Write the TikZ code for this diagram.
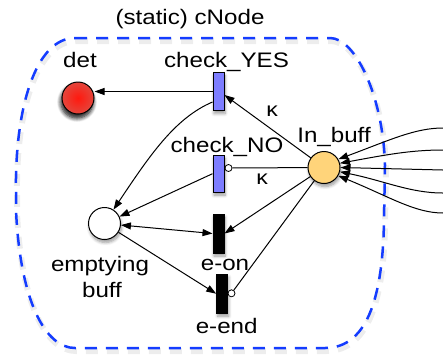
\documentclass[tikz,border=0pt]{standalone}
\usepackage{fontspec}
\setmainfont{Liberation Sans}[FakeStretch=1.15]
\usetikzlibrary{arrows.meta,shadows.blur}
\definecolor{boxblue}{RGB}{20,60,255}
\definecolor{transblue}{RGB}{125,125,255}
\definecolor{bufforange}{RGB}{255,212,122}
\definecolor{detin}{RGB}{255,25,15}
\definecolor{detout}{RGB}{228,70,60}
\begin{document}
\begin{tikzpicture}[x=1pt,y=-1pt,
  lbl/.style={font=\fontsize{21}{25}\selectfont,anchor=base,inner sep=0pt},
  kap/.style={font=\fontsize{20}{24}\selectfont,inner sep=0pt},
  shad/.style={blur shadow={shadow xshift=1pt,shadow yshift=-3pt,shadow opacity=40,shadow blur radius=3pt,shadow blur steps=6}},
  place/.style={circle,draw,line width=1pt,minimum size=32pt,inner sep=0pt,shad},
  transition/.style={rectangle,draw,line width=1pt,minimum width=11pt,minimum height=38pt,inner sep=0pt,shad},
  inh/.style={circle,draw,fill=white,line width=0.8pt,minimum size=7pt,inner sep=0pt},
  conn/.style={line width=1pt},
  arc/.style={conn,-{Triangle[length=10pt,width=7pt]}},
  darc/.style={conn,{Triangle[length=10pt,width=7pt]}-{Triangle[length=10pt,width=7pt]}},
  box/.style={line width=2.5pt,dash pattern=on 12pt off 9pt}
]
\useasboundingbox (0,0) rectangle (443,354);
% soft shadow of the dashed boundary
\begin{scope}[shift={(1,3)}]
\draw[box,black,opacity=0.07,line width=6pt] (75,38) -- (330,38) .. controls (355,38) and (383,95) .. (385,165) -- (384,220) .. controls (383,290) and (370,348) .. (325,348) -- (75,348) .. controls (45,348) and (20,300) .. (16,210) -- (16,190) .. controls (15,110) and (35,38) .. (75,38) -- cycle;
\end{scope}
\draw[box,boxblue] (75,38) -- (330,38) .. controls (355,38) and (383,95) .. (385,165) -- (384,220) .. controls (383,290) and (370,348) .. (325,348) -- (75,348) .. controls (45,348) and (20,300) .. (16,210) -- (16,190) .. controls (15,110) and (35,38) .. (75,38) -- cycle;

% nodes
\node[place,shading=radial,inner color=detin,outer color=detout,
  blur shadow={shadow xshift=-1pt,shadow yshift=-4pt,shadow opacity=60,shadow blur radius=4pt,shadow blur steps=6}] (det) at (78,98) {};
\node[transition,fill=transblue] (cy) at (218.5,91.5) {};
\node[transition,fill=transblue,minimum height=37pt] (cn) at (218.5,173.7) {};
\node[place,fill=bufforange] (ib) at (324,167.5) {};
\node[place,fill=white] (emp) at (104.5,223.5) {};
\node[transition,fill=black,minimum height=39pt] (eon) at (218.5,233.5) {};
\node[transition,fill=black,minimum height=39pt] (eend) at (222.2,293.7) {};
\node[inh] (inhN) at (228.5,168) {};
\node[inh] (inhE) at (231.5,293.3) {};

% labels
\node[lbl] (ttitle) at (190,24) {(static) cNode};
\node[lbl] (tdet) at (80,67) {det};
\node[lbl] (tcy) at (226.5,67) {check\_YES};
\node[lbl] (tcn) at (227,152) {check\_NO};
\node[lbl] (tib) at (334,142) {In\_buff};
\node[lbl] (temp1) at (100,271) {emptying};
\node[lbl] (temp2) at (102,297.5) {buff};
\node[lbl] (teon) at (225,270) {e-on};
\node[lbl] (teend) at (226.7,333) {e-end};
\node[kap] (k1) at (272,111.5) {κ};
\node[kap] (k2) at (262,179) {κ};

% connectors
\draw[arc] (cy.west) -- (cy.west -| det.east);
\draw[arc] (ib) -- ([yshift=-3.5pt]cy.east);
\draw[conn] (ib) -- (inhN);
\draw[arc] ([yshift=-10.5pt]cy.west) .. controls (175,118) and (150,155) .. (emp.57);
\draw[arc] (cn.west) -- (emp);
\draw[arc] (ib) -- (eon.east);
\draw[darc] (emp) -- (eon.west);
\draw[arc] (emp) -- (eend.west);
\draw[conn] (ib) -- (inhE);

% incoming arcs from the right
\coordinate (r1) at (443,128);
\coordinate (r2) at (443,150);
\coordinate (r3) at (443,170);
\coordinate (r4) at (443,193);
\coordinate (r5) at (443,213);
\draw[arc] (r1) .. controls (415,128) and (390,140) .. (ib.30);
\draw[arc] (r2) .. controls (410,150) and (385,155) .. (ib.15);
\draw[arc] (r3) -- (ib.0);
\draw[arc] (r4) .. controls (410,193) and (385,181) .. (ib.-15);
\draw[arc] (r5) .. controls (415,213) and (390,197) .. (ib.-30);
\end{tikzpicture}
\end{document}
